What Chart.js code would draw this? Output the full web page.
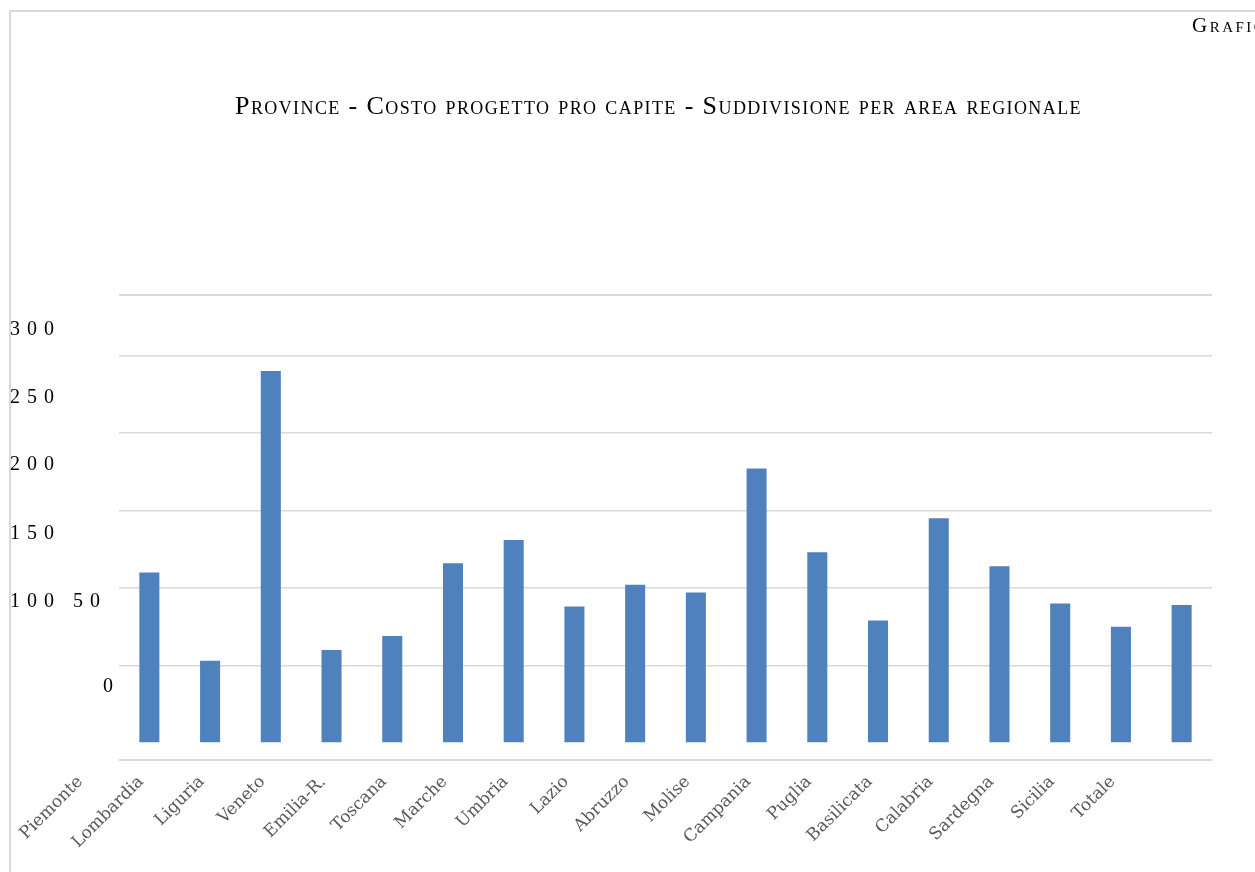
<!DOCTYPE html>
<html>
<head>
<meta charset="utf-8">
<script src="https://cdn.jsdelivr.net/npm/chart.js@4.4.0/dist/chart.umd.min.js"></script>
<style>
  html, body { margin: 0; padding: 0; background: #fff; overflow: hidden; }
  canvas { display: block; }
</style>
</head>
<body>
<canvas id="c" width="1255" height="872"></canvas>
<script>
// ---- data ----
const categories = ['Piemonte', 'Lombardia', 'Liguria', 'Veneto', 'Emilia-R.', 'Toscana', 'Marche', 'Umbria', 'Lazio', 'Abruzzo', 'Molise', 'Campania', 'Puglia', 'Basilicata', 'Calabria', 'Sardegna', 'Sicilia', 'Totale'];
const costoProCapite = [110, 53, 240, 60, 69, 116, 131, 88, 102, 97, 177, 123, 79, 145, 114, 90, 75, 89];
const yTickLabels = ['3 0 0', '2 5 0', '2 0 0', '1 5 0', '1 0 0', '5 0', '0'];
const gridStep = 50;
const chartTitle = 'Province - Costo progetto pro capite - Suddivisione per area regionale';
const pageLabel = 'Grafico';

// ---- page decorations: frame, corner label, y labels as laid out in the source ----
const decorations = {
  id: 'decorations',
  beforeDraw(chart) {
    const ctx = chart.ctx;
    ctx.save();
    ctx.fillStyle = '#ffffff';
    ctx.fillRect(0, 0, chart.width, chart.height);
    ctx.fillStyle = '#d9d9d9';
    ctx.fillRect(9, 10, chart.width - 9, 2);
    ctx.fillRect(9, 10, 2, chart.height - 10);
    ctx.restore();
    // spaced-out title, slightly left of centre as in the source
    const tb = chart.titleBlock;
    if (tb && !tb._spaced) {
      const orig = tb.draw.bind(tb);
      tb.draw = function (...args) {
        ctx.save();
        ctx.letterSpacing = '1.4px';
        ctx.translate(-7, 0);
        orig(...args);
        ctx.restore();
      };
      tb._spaced = true;
    }
  },
  afterDraw(chart) {
    const ctx = chart.ctx;
    ctx.save();
    ctx.fillStyle = '#000';
    ctx.textAlign = 'left';
    ctx.textBaseline = 'alphabetic';
    ctx.letterSpacing = '2.5px';
    ctx.font = 'normal small-caps 21px "Liberation Serif", serif';
    ctx.fillText(pageLabel, 1192, 32);

    ctx.letterSpacing = '1px';
    ctx.font = '20px "Liberation Serif", serif';
    ctx.textBaseline = 'middle';
    const pos = [[10, 330], [10, 398], [10, 465], [10, 534], [10, 602], [73, 602], [103, 687]];
    yTickLabels.forEach((t, i) => ctx.fillText(t, pos[i][0], pos[i][1]));
    ctx.restore();
  }
};

new Chart(document.getElementById('c'), {
  type: 'bar',
  data: {
    labels: categories,
    datasets: [{
      data: costoProCapite,
      backgroundColor: '#4f81bd',
      borderWidth: 0,
      barPercentage: 0.33,
      categoryPercentage: 1.0
    }]
  },
  options: {
    responsive: false,
    animation: false,
    layout: { padding: { left: 119, right: 43, top: 0, bottom: 0 } },
    plugins: {
      legend: { display: false },
      tooltip: { enabled: false },
      title: {
        display: true,
        text: chartTitle,
        color: '#000',
        font: { family: '"Liberation Serif", serif', size: 26, weight: 'small-caps', lineHeight: 1.2 },
        padding: { top: 92, bottom: 171.8 }
      }
    },
    scales: {
      x: {
        grid: { display: false },
        border: { display: false },
        ticks: {
          autoSkip: false,
          minRotation: 45,
          maxRotation: 45,
          labelOffset: -69,
          padding: 4,
          color: '#595959',
          font: { family: '"DejaVu Serif", serif', size: 17 }
        },
        afterFit(s) { s.height = 112; }
      },
      y: {
        min: -11,
        max: 289,
        border: { display: false },
        ticks: { display: false },
        afterBuildTicks(s) {
          const t = [{ value: s.min }];
          for (let v = 0; v < s.max; v += gridStep) t.push({ value: v });
          t.push({ value: s.max });
          s.ticks = t;
        },
        grid: {
          drawTicks: false,
          color: (c) => (c.tick && c.tick.value === 0) ? 'rgba(0,0,0,0)' : '#d9d9d9',
          lineWidth: (c) => (c.tick && (c.tick.value === -11 || c.tick.value === 289)) ? 2 : 1.5
        },
        afterFit(s) { s.width = 0; }
      }
    }
  },
  plugins: [decorations]
});
</script>
</body>
</html>
